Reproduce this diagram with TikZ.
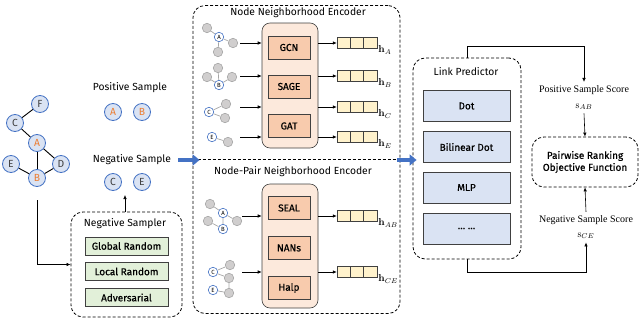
\documentclass[tikz,border=0pt]{standalone}
\usepackage[no-math]{fontspec}
\setmainfont{Fira Sans}
\newfontfamily\boxfont{Fira Sans}[FakeBold=0.6]
\newfontfamily\scorefont{Liberation Serif}
\usepackage{tikz}
\usetikzlibrary{positioning,arrows.meta}
\definecolor{nodeblue}{HTML}{4472C4}
\definecolor{nodefill}{HTML}{DAE3F3}
\definecolor{accent}{HTML}{ED7D31}
\definecolor{darkline}{HTML}{404040}
\definecolor{minigray}{HTML}{A6A6A6}
\definecolor{minifill}{HTML}{D0CECE}
\definecolor{holderfill}{HTML}{FCE9DC}
\definecolor{methodfill}{HTML}{F8CBAD}
\definecolor{samplerfill}{HTML}{E2F0D9}
\definecolor{cellfill}{HTML}{FFF2CC}
\definecolor{predfill}{HTML}{DAE3F3}

\begin{document}
\begin{tikzpicture}[x=1pt,y=-1pt,font=\fontsize{10.3}{12}\selectfont,
  vertex/.style={
    circle,
    draw=nodeblue,
    fill=nodefill,
    line width=0.8pt,
    inner sep=0pt,
    minimum size=17pt,
    text=darkline
  },
  minivertex/.style={circle,draw=minigray,fill=minifill,line width=0.6pt,inner sep=0pt,minimum size=9.5pt},
  minilabel/.style={minivertex,draw=nodeblue,fill=white,font=\fontsize{6}{6}\selectfont},
  link/.style={line width=0.9pt},
  minilink/.style={draw=minigray,line width=0.7pt},
  frame/.style={draw,dash pattern=on 3pt off 2pt,line width=0.8pt,rounded corners=12pt},
  holder/.style={draw=darkline,fill=holderfill,rounded corners=8pt,line width=0.6pt,minimum width=56pt},
  method/.style={draw=darkline,fill=methodfill,line width=0.6pt,minimum width=42pt,minimum height=23pt,font=\boxfont},
  sampler/.style={draw=darkline,fill=samplerfill,line width=0.6pt,minimum width=83pt,minimum height=18pt,inner sep=0pt,font=\boxfont},
  cell/.style={draw=darkline,fill=cellfill,line width=0.6pt,minimum width=13.3pt,minimum height=11pt,inner sep=0pt},
  predictor/.style={draw=darkline,fill=predfill,line width=0.6pt,minimum width=87pt,minimum height=31pt,font=\boxfont},
  arrow/.style={-{Latex[length=4pt,width=3.5pt]},line width=0.6pt},
  bigarrow/.style={-{Triangle[length=7pt,width=11pt]},line width=4.5pt,draw=nodeblue}
]
\useasboundingbox (0,0) rectangle (640,319);

% input graph
\node[vertex] (F) at (40,104) {F};
\node[vertex] (C) at (15,123) {C};
\node[vertex,text=accent] (A) at (37,143) {A};
\node[vertex] (E) at (11,164) {E};
\node[vertex] (D) at (61,164) {D};
\node[vertex,text=accent] (B) at (37,178) {B};
\draw[link] (F)--(C);
\draw[link] (C)--(A);
\draw[link] (A)--(B);
\draw[link] (A)--(D);
\draw[link] (E)--(B);
\draw[link] (B)--(D);

% samples
\node (postxt) at (130,88) {Positive Sample};
\node[vertex,text=accent] (posA) at (113,112) {A};
\node[vertex,text=accent] (posB) at (142,112) {B};
\node (negtxt) at (132,160) {Negative Sample};
\node[vertex] (negC) at (113,182) {C};
\node[vertex] (negE) at (142,182) {E};

% negative sampler
\node[frame,minimum width=111pt,minimum height=105pt] (ns) at (126.5,264.5) {};
\node (nstitle) at (125,224) {Negative Sampler};
\node[sampler] (global) at (126.5,246) {Global Random};
\node[sampler] (local) at (126.5,271.5) {Local Random};
\node[sampler] (adv) at (126.5,297.5) {Adversarial};
\coordinate (gout) at (37,200);
\draw[arrow] (gout) |- (ns.west);
\draw[arrow,shorten >=4pt] (ns.north -| 125,0) -- (125,191);

% encoders
\node[frame,minimum width=207pt,minimum height=308pt] (enc) at (296.5,159.5) {};
\draw[dash pattern=on 3pt off 2pt,line width=0.8pt] (enc.west) -- (enc.east);
\node (enctitle) at (298,13) {Node Neighborhood Encoder};
\node (pairtitle) at (293,172) {Node-Pair Neighborhood Encoder};
\node[holder,minimum height=125pt] (enc1) at (290,85.5) {};
\node[method] (gcn) at (289,47.5) {GCN};
\node[method] (sage) at (289,86.5) {SAGE};
\node[method] (gat) at (289,126) {GAT};
\node[holder,minimum height=124pt] (enc2) at (290,246) {};
\node[method] (seal) at (289,208) {SEAL};
\node[method] (nans) at (289,248) {NANs};
\node[method] (halp) at (289,288) {Halp};

% neighborhoods
\node[minivertex] (a1) at (207,28) {};
\node[minilabel] (a0) at (219,37) {A};
\node[minivertex] (a2) at (233,43) {};
\node[minivertex] (a3) at (218,52) {};
\draw[minilink] (a1)--(a0) (a0)--(a2) (a0)--(a3);
\node[minivertex] (b1) at (207,77) {};
\node[minivertex] (b2) at (218,68) {};
\node[minivertex] (b3) at (232,77) {};
\node[minilabel] (b0) at (219,85) {B};
\draw[minilink] (b0)--(b1) (b0)--(b2) (b0)--(b3);
\node[minilabel] (c0) at (209,112) {C};
\node[minivertex] (c1) at (226,104) {};
\node[minivertex] (c2) at (225,118) {};
\draw[minilink] (c0)--(c1) (c0)--(c2);
\node[minilabel] (e0) at (212,137) {E};
\node[minivertex] (e1) at (228,142) {};
\draw[minilink] (e0)--(e1);
\node[minivertex] (p1) at (210,204) {};
\node[minilabel] (pA) at (223,213) {A};
\node[minivertex] (p2) at (208,221) {};
\node[minilabel] (pB) at (223,229) {B};
\node[minivertex] (p3) at (237,221) {};
\draw[minilink] (p1)--(pA) (pA)--(pB) (pA)--(p3) (p2)--(pB);
\node[minilabel] (qC) at (213,272) {C};
\node[minivertex] (q1) at (230,265) {};
\node[minivertex] (q2) at (229,278) {};
\node[minilabel] (qE) at (213,290) {E};
\node[minivertex] (q3) at (229,293) {};
\draw[minilink] (qC)--(q1) (qC)--(q2) (q2)--(q3) (qE)--(q3);

% embeddings
\foreach \n/\y in {A/43,B/76,C/107,E/137}{
  \coordinate (in\n) at (240,\y);
  \draw[arrow] (in\n) -- (in\n -| enc1.west);
  \node[cell] (\n1) at (343.7,\y) {};
  \node[cell] (\n2) at (357,\y) {};
  \node[cell] (\n3) at (370.3,\y) {};
  \draw[arrow] (\n1.west -| enc1.east) -- (\n1.west);
  \node[anchor=west,inner sep=1pt] (h\n) at ([yshift=-7pt]\n3.east) {$\mathbf{h}_{\n}$};
}
\foreach \n/\y in {AB/216,CE/272}{
  \coordinate (in\n) at (242,\y);
  \draw[arrow] (in\n) -- (in\n -| enc2.west);
  \node[cell] (\n1) at (343.7,\y) {};
  \node[cell] (\n2) at (357,\y) {};
  \node[cell] (\n3) at (370.3,\y) {};
  \draw[arrow] (\n1.west -| enc2.east) -- (\n1.west);
  \node[anchor=west,inner sep=1pt] (h\n) at ([yshift=-7pt]\n3.east) {$\mathbf{h}_{\n}$};
}

% big arrows
\coordinate (bigin) at (178,160);
\coordinate (bigout) at (397,160);
\draw[bigarrow] (bigin) -- (bigin -| enc.west) -- ++(7,0);
\node[frame,minimum width=108pt,minimum height=201pt] (lp) at (467,158.5) {};
\draw[bigarrow] (bigout) -- (bigout -| lp.west) -- ++(4,0);

% link predictor
\node (lptitle) at (466,72) {Link Predictor};
\node[predictor] (dot) at (466.5,106) {Dot};
\node[predictor] (bilinear) at (466.5,147) {Bilinear Dot};
\node[predictor] (mlp) at (466.5,187.5) {MLP};
\node[predictor] (more) at (466.5,228.5) {\dots\ \dots};

% scores and objective
\node[font=\scorefont] (posscore) at (584,90) {Positive Sample Score};
\node (sAB) at (584,107) {$\mathrm{s}_{AB}$};
\node[frame,minimum width=106pt,minimum height=50pt,align=center,font=\boxfont] (obj) at (585,162) {Pairwise Ranking\\Objective Function};
\node[font=\scorefont] (negscore) at (586,220) {Negative Sample Score};
\node (sCE) at (586,236) {$\mathrm{s}_{CE}$};
\draw[arrow] (lp.north) -- ++(0,-11) -| (posscore.north);
\draw[arrow] (sAB.south) -- (obj.north);
\draw[arrow] (negscore.north) -- (obj.south);
\draw[arrow] (lp.south) -- ++(0,13) -| (sCE.south);
\end{tikzpicture}
\end{document}
